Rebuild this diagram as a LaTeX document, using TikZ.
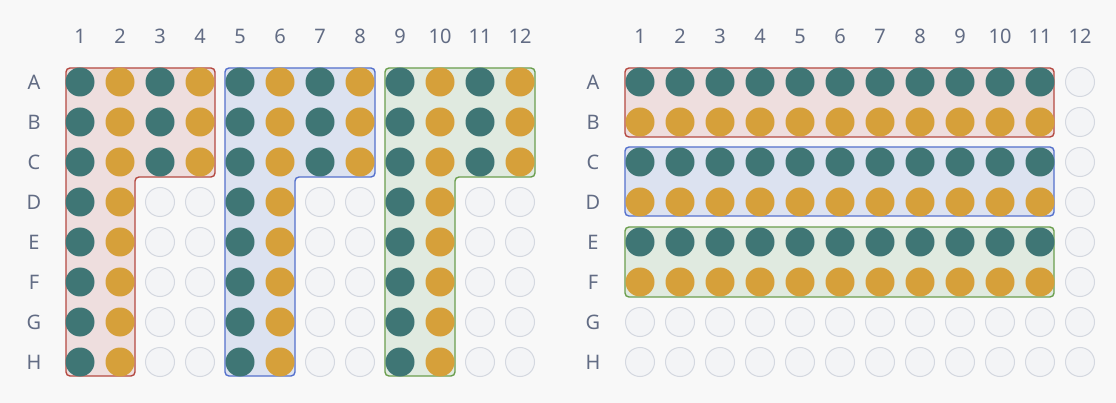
\documentclass[tikz,border=0pt]{standalone}
\usepackage{fontspec}
\setmainfont{Noto Sans}
\definecolor{bgc}{RGB}{248,248,248}
\definecolor{wellteal}{RGB}{63,118,117}
\definecolor{wellorange}{RGB}{214,160,58}
\definecolor{wellempty}{RGB}{243,244,246}
\definecolor{wellrim}{RGB}{212,216,224}
\definecolor{labgray}{RGB}{98,108,132}
\definecolor{redline}{RGB}{180,72,64}
\definecolor{redfill}{RGB}{238,222,222}
\definecolor{blueline}{RGB}{84,112,204}
\definecolor{bluefill}{RGB}{220,226,240}
\definecolor{greenline}{RGB}{106,158,77}
\definecolor{greenfill}{RGB}{224,234,224}
\tikzset{
  fullwell/.style={circle,inner sep=0pt,minimum size=29pt,fill=#1},
  emptywell/.style={circle,inner sep=0pt,minimum size=29pt,draw=wellrim,fill=wellempty,line width=1pt},
  lab/.style={text=labgray,font=\fontsize{20}{20}\selectfont},
  grp/.style={line width=1.4pt,rounded corners=4pt},
}
\begin{document}
\begin{tikzpicture}[x=1pt,y=-1pt]
  \fill[bgc] (0,0) rectangle (1116,403);
  \useasboundingbox (0,0) rectangle (1116,403);
  % labels
  \foreach \c in {1,...,12} {
    \node[lab] (lc\c) at ({40+40*\c},36) {\c};
    \node[lab] (rc\c) at ({600+40*\c},36) {\c};
  }
  \foreach \r [count=\i] in {A,B,C,D,E,F,G,H} {
    \node[lab] (lr\r) at (34,{42+40*\i}) {\r};
    \node[lab] (rr\r) at (593,{42+40*\i}) {\r};
  }
  % groups, left plate
  \filldraw[grp,draw=redline,fill=redfill] (66,68) -- (215,68) -- (215,177) -- (135,177) -- (135,376) -- (66,376) -- cycle;
  \filldraw[grp,draw=blueline,fill=bluefill] (225,68) -- (375,68) -- (375,177) -- (295,177) -- (295,376) -- (225,376) -- cycle;
  \filldraw[grp,draw=greenline,fill=greenfill] (385,68) -- (535,68) -- (535,177) -- (455,177) -- (455,376) -- (385,376) -- cycle;
  % groups, right plate
  \filldraw[grp,draw=redline,fill=redfill] (625,68) rectangle (1054,137);
  \filldraw[grp,draw=blueline,fill=bluefill] (625,147) rectangle (1054,216);
  \filldraw[grp,draw=greenline,fill=greenfill] (625,227) rectangle (1054,297);
  % wells
  \foreach \r [count=\i] in {A,B,C,D,E,F,G,H} {
    \foreach \c in {1,...,12} {
      \pgfmathtruncatemacro\fil{(\i<4)||(mod(\c-1,4)<2)}
      \ifnum\fil=1
        \ifodd\c \def\wc{wellteal}\else\def\wc{wellorange}\fi
        \node[fullwell=\wc] (l\r\c) at ({40+40*\c},{42+40*\i}) {};
      \else
        \node[emptywell] (l\r\c) at ({40+40*\c},{42+40*\i}) {};
      \fi
      \pgfmathtruncatemacro\fil{(\i<7)&&(\c<12)}
      \ifnum\fil=1
        \ifodd\i \def\wc{wellteal}\else\def\wc{wellorange}\fi
        \node[fullwell=\wc] (r\r\c) at ({600+40*\c},{42+40*\i}) {};
      \else
        \node[emptywell] (r\r\c) at ({600+40*\c},{42+40*\i}) {};
      \fi
    }
  }
\end{tikzpicture}
\end{document}
